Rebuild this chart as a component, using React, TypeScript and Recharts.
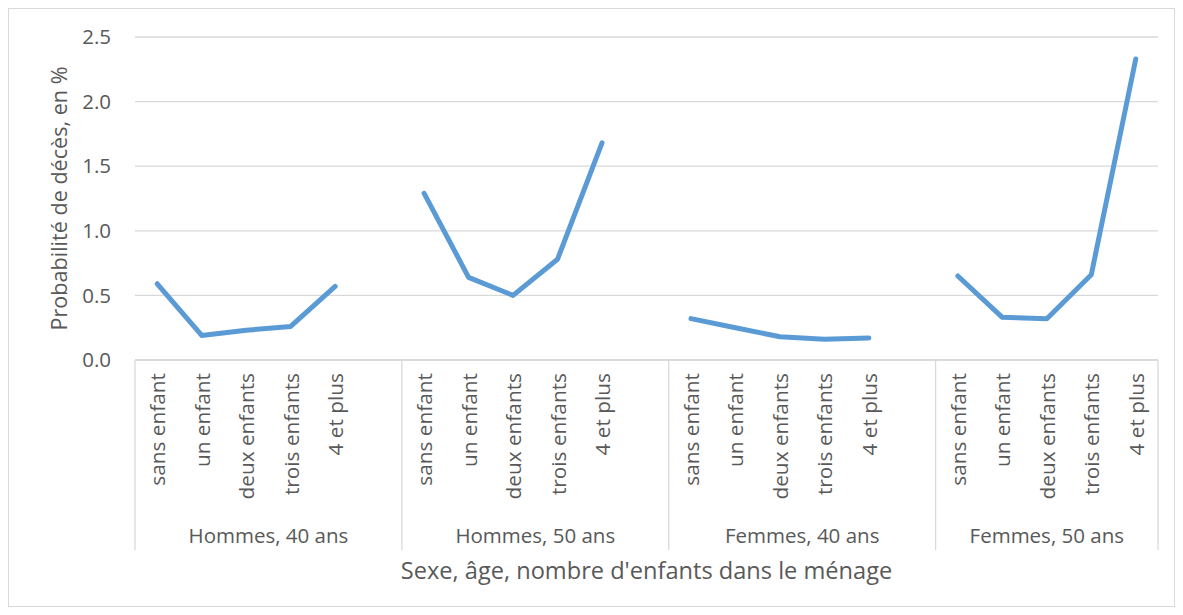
import { LineChart, Line, XAxis, YAxis, CartesianGrid } from "recharts";

const groups = ["Hommes, 40 ans", "Hommes, 50 ans", "Femmes, 40 ans", "Femmes, 50 ans"];
const children = ["sans enfant", "un enfant", "deux enfants", "trois enfants", "4 et plus"];

const hommes40 = [0.59, 0.19, 0.23, 0.26, 0.57];
const hommes50 = [1.29, 0.64, 0.5, 0.78, 1.68];
const femmes40 = [0.32, 0.25, 0.18, 0.16, 0.17];
const femmes50 = [0.65, 0.33, 0.32, 0.66, 2.33];

const yTicks = [0, 0.5, 1, 1.5, 2, 2.5];

const FONT = "'Open Sans', sans-serif";
const TEXT = "#595959";
const GRID = "#d9d9d9";

// one blank slot after each group, like the empty rows in the sheet
const series = [hommes40, hommes50, femmes40, femmes50];
const data: { key: string; label: string; group: number; first: boolean; value: number | null }[] = [];
series.forEach((vals, g) => {
  vals.forEach((v, i) => {
    data.push({ key: `${g}-${i}`, label: children[i], group: g, first: i === 0, value: v });
  });
  if (g < series.length - 1) {
    data.push({ key: `${g}-gap`, label: "", group: g, first: false, value: null });
  }
});

function slotsInGroup(g: number) {
  return data.filter((d) => d.group === g).length;
}

// eslint-disable-next-line @typescript-eslint/no-explicit-any
function CategoryTick(props: any) {
  const { x, y, payload, width } = props;
  const idx = payload.index;
  const d = data[idx];
  if (!d) return null;
  const half = payload.offset ?? width / (2 * data.length);
  const left = x - half;
  const isLast = idx === data.length - 1;
  const ty = y + 13;
  return (
    <g>
      {d.label && (
        <text
          x={x}
          y={ty}
          transform={`rotate(-90, ${x}, ${ty})`}
          textAnchor="end"
          dominantBaseline="central"
          fill={TEXT}
          fontSize={20.8}
          fontFamily={FONT}
        >
          {d.label}
        </text>
      )}
      {d.first && (
        <>
          <line x1={left} x2={left} y1={y} y2={y + 190} stroke={GRID} strokeWidth={1.3} />
          <text
            x={left + slotsInGroup(d.group) * half}
            y={y + 175}
            textAnchor="middle"
            dominantBaseline="central"
            fill={TEXT}
            fontSize={20.5}
            fontFamily={FONT}
          >
            {groups[d.group]}
          </text>
        </>
      )}
      {isLast && <line x1={x + half} x2={x + half} y1={y} y2={y + 190} stroke={GRID} strokeWidth={1.3} />}
    </g>
  );
}

export default function App() {
  return (
    <div style={{ width: 1165, height: 597, border: `1px solid ${GRID}`, background: "#fff" }}>
      <LineChart width={1165} height={597} data={data} margin={{ top: 28, right: 16, left: 0, bottom: 0 }}>
        <CartesianGrid vertical={false} stroke={GRID} strokeWidth={1.3} />
        <XAxis
          dataKey="key"
          scale="band"
          interval={0}
          height={246}
          tickLine={false}
          tickSize={0}
          tickMargin={0}
          axisLine={{ stroke: GRID, strokeWidth: 1.3 }}
          tick={<CategoryTick />}
          label={{
            content: ({ viewBox }: any) => (
              <text
                x={viewBox.x + viewBox.width / 2}
                y={viewBox.y + 210}
                textAnchor="middle"
                dominantBaseline="central"
                fill={TEXT}
                fontSize={23.6}
                fontFamily={FONT}
              >
                Sexe, âge, nombre d'enfants dans le ménage
              </text>
            ),
          }}
        />
        <YAxis
          width={126}
          domain={[0, 2.5]}
          ticks={yTicks}
          tickFormatter={(v: number) => v.toFixed(1)}
          axisLine={false}
          tickLine={false}
          tickSize={6}
          tickMargin={18}
          tick={{ fill: TEXT, fontSize: 20.5, fontFamily: FONT }}
          label={{
            content: ({ viewBox }: any) => {
              const cx = viewBox.x + 49;
              const cy = viewBox.y + viewBox.height / 2;
              return (
                <text
                  x={cx}
                  y={cy}
                  transform={`rotate(-90, ${cx}, ${cy})`}
                  textAnchor="middle"
                  dominantBaseline="central"
                  fill={TEXT}
                  fontSize={21.6}
                  fontFamily={FONT}
                >
                  Probabilité de décès, en %
                </text>
              );
            },
          }}
        />
        <Line
          type="linear"
          dataKey="value"
          stroke="#5b9bd5"
          strokeWidth={5}
          strokeLinecap="round"
          strokeLinejoin="round"
          dot={false}
          activeDot={false}
          connectNulls={false}
          isAnimationActive={false}
        />
      </LineChart>
    </div>
  );
}
